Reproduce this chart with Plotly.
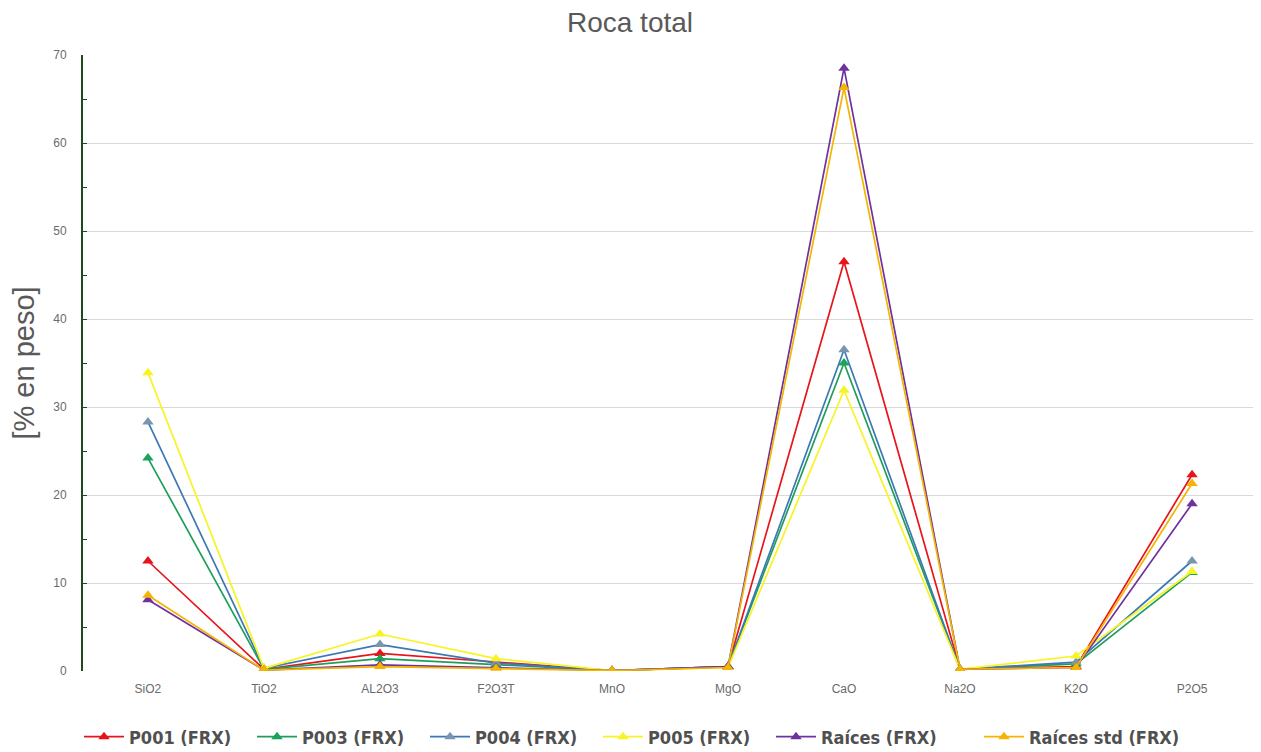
import plotly.graph_objects as go

categories = ["SiO2", "TiO2", "AL2O3", "F2O3T", "MnO", "MgO", "CaO", "Na2O", "K2O", "P2O5"]

p001 = [12.5, 0.2, 2.0, 1.0, 0.05, 0.5, 46.5, 0.2, 0.5, 22.3]
p003 = [24.2, 0.2, 1.4, 0.7, 0.05, 0.5, 35.0, 0.2, 0.8, 11.2]
p004 = [28.3, 0.3, 3.0, 0.9, 0.05, 0.5, 36.5, 0.2, 1.0, 12.5]
p005 = [33.9, 0.3, 4.2, 1.4, 0.05, 0.4, 31.9, 0.2, 1.7, 11.3]
raices = [8.1, 0.1, 0.7, 0.4, 0.05, 0.5, 68.5, 0.2, 0.4, 19.0]
raices_std = [8.6, 0.1, 0.5, 0.3, 0.05, 0.4, 66.3, 0.2, 0.4, 21.3]

series_names = ["P001 (FRX)", "P003 (FRX)", "P004 (FRX)", "P005 (FRX)", "Raíces (FRX)", "Raíces std (FRX)"]
series_values = [p001, p003, p004, p005, raices, raices_std]
line_colors = ["#e8141c", "#1f9e5a", "#3b79b4", "#f6f422", "#6f30a0", "#f4b400"]
marker_colors = ["#e8141c", "#1aa35a", "#7a95b0", "#f6f422", "#6f30a0", "#f4b400"]
legend_ids = ["legend", "legend", "legend", "legend", "legend", "legend2"]

# page has an 8px body margin; figure is sized so the plot lands where the reference has it
W, H = 1253, 744
ML, MR, MT, MB = 75, 4, 47, 81
PW = W - ML - MR
PH = H - MT - MB

fig = go.Figure()
for name, vals, lc, mc, lg in zip(series_names, series_values, line_colors, marker_colors, legend_ids):
    fig.add_trace(go.Scatter(
        x=categories, y=vals, name=name, mode="lines+markers",
        line=dict(color=lc, width=1.7),
        marker=dict(symbol="triangle-up", size=10, color=mc),
        legend=lg,
    ))

legend_font = dict(family="DejaVu Sans Condensed, Liberation Sans Narrow, Arial Narrow, sans-serif",
                   size=18, color="#505050", weight="bold")
legend_y = -(737 - 671) / PH

fig.update_layout(
    width=W, height=H,
    paper_bgcolor="white", plot_bgcolor="white",
    margin=dict(l=ML, r=MR, t=MT, b=MB, autoexpand=False),
    title=dict(text="Roca total", x=(630 - 8) / W, xref="container", xanchor="center",
               y=1 - 14 / H, yref="container", yanchor="middle",
               font=dict(family="Liberation Sans, Arial, sans-serif", size=28, color="#595959")),
    font=dict(family="Liberation Sans, Arial, sans-serif", color="#595959"),
    showlegend=True,
    legend=dict(orientation="h", x=(85 - 83 - 6) / PW, xanchor="left", y=legend_y, yanchor="middle",
                font=legend_font, entrywidth=118, entrywidthmode="pixels",
                itemwidth=40, tracegroupgap=0, bgcolor="rgba(0,0,0,0)"),
    legend2=dict(orientation="h", x=(985 - 83 - 6) / PW, xanchor="left", y=legend_y, yanchor="middle",
                 font=legend_font, itemwidth=40, bgcolor="rgba(0,0,0,0)"),
)
fig.update_xaxes(
    type="category", showgrid=False, showline=False, ticks="", automargin=False,
    tickfont=dict(size=12, color="#6a6a6a"), zeroline=False, ticklabelstandoff=9,
)
fig.update_yaxes(
    range=[0, 70], dtick=10, showgrid=True, gridcolor="#d9d9d9", gridwidth=1,
    showline=True, linecolor="#1e4a1e", linewidth=2, automargin=False,
    ticks="inside", ticklen=4, tickcolor="#1e4a1e",
    minor=dict(dtick=5, ticks="inside", ticklen=4, tickcolor="#1e4a1e", showgrid=False),
    tickfont=dict(size=12, color="#6a6a6a"), zeroline=False, ticklabelstandoff=12,
    title=dict(text="[% en peso]", font=dict(size=29, color="#595959"), standoff=22),
)

fig.write_html("out.html")
